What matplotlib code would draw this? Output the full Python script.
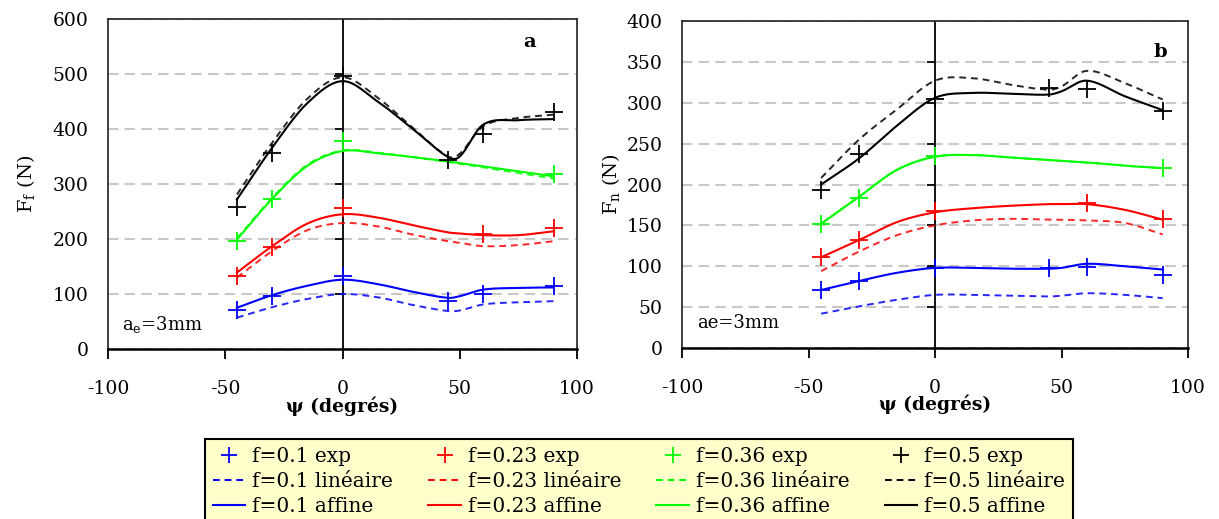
import numpy as np
import matplotlib
matplotlib.use("Agg")
import matplotlib.pyplot as plt
from matplotlib.lines import Line2D

plt.rcParams['font.family'] = ['DejaVu Serif']
plt.rcParams['mathtext.fontset'] = 'dejavuserif'

# ---- data ----
f_labels = ['0.1', '0.23', '0.36', '0.5']
colors = ['#0000ff', '#ff0000', '#00ff00', '#000000']

psi_exp = [-45, -30, 0, 45, 60, 90]
psi_mod = [-45, -30, -15, 0, 15, 30, 45, 50, 60, 75, 90]

xticks = [-100, -50, 0, 50, 100]
xtick_labels = ['-100', '-50', '0', '50', '100']
ff_yticks = [0, 100, 200, 300, 400, 500, 600]
fn_yticks = [0, 50, 100, 150, 200, 250, 300, 350, 400]

nan = float('nan')

# panel a : Ff (N)
ff_exp_01 = [71, 97, 133, 88, 100, 114]
ff_exp_023 = [132, 185, 256, nan, 210, 220]
ff_exp_036 = [196, 272, 378, nan, nan, 319]
ff_exp_05 = [259, 357, 497, 343, 391, 430]

ff_lin_01 = [57, 76, 91, 100, 94, 80, 69, 70, 81, 85, 87]
ff_lin_023 = [130, 178, 216, 229, 223, 208, 196, 193, 187, 189, 196]
ff_lin_036 = [201, 275, 335, 361, 357, 349, 340, 337, 330, 320, 310]
ff_lin_05 = [281, 375, 455, 494, 457, 402, 350, 355, 405, 420, 426]

ff_aff_01 = [75, 98, 115, 126, 118, 104, 93, 96, 108, 111, 112]
ff_aff_023 = [139, 187, 228, 245, 239, 225, 212, 210, 207, 207, 214]
ff_aff_036 = [199, 273, 333, 360, 356, 349, 341, 338, 332, 323, 314]
ff_aff_05 = [272, 366, 447, 487, 450, 400, 349, 350, 408, 416, 418]

# panel b : Fn (N)
fn_exp_01 = [71, 82, 98, 98, 99, 89]
fn_exp_023 = [111, 132, 167, nan, 177, 158]
fn_exp_036 = [152, 184, 235, nan, nan, 220]
fn_exp_05 = [193, 237, 304, 318, 317, 290]

fn_lin_01 = [42, 51, 59, 65, 65, 64, 63, 64, 67, 65, 61]
fn_lin_023 = [94, 118, 138, 150, 156, 158, 157, 157, 156, 153, 139]
fn_lin_036 = [152, 185, 218, 234, 236, 233, 230, 229, 227, 223, 220]
fn_lin_05 = [208, 255, 292, 327, 330, 322, 316, 320, 339, 324, 304]

fn_aff_01 = [71, 82, 92, 98, 98, 97, 97, 98, 103, 100, 96]
fn_aff_023 = [111, 132, 154, 166, 171, 174, 176, 176, 176, 169, 157]
fn_aff_036 = [152, 185, 218, 234, 236, 233, 230, 229, 227, 223, 220]
fn_aff_05 = [200, 232, 272, 306, 312, 311, 310, 314, 327, 308, 291]


def smooth(x, y, n=30):
    # cubic hermite through the read points (like a spreadsheet smoothed line)
    x = np.asarray(x, float)
    y = np.asarray(y, float)
    m = np.empty_like(y)
    m[1:-1] = (y[2:] - y[:-2]) / (x[2:] - x[:-2])
    m[0] = (y[1] - y[0]) / (x[1] - x[0])
    m[-1] = (y[-1] - y[-2]) / (x[-1] - x[-2])
    xs, ys = [], []
    for i in range(len(x) - 1):
        h = x[i + 1] - x[i]
        t = np.linspace(0, 1, n, endpoint=(i == len(x) - 2))
        h00 = 2 * t**3 - 3 * t**2 + 1
        h10 = t**3 - 2 * t**2 + t
        h01 = -2 * t**3 + 3 * t**2
        h11 = t**3 - t**2
        ys.append(h00 * y[i] + h10 * h * m[i] + h01 * y[i + 1] + h11 * h * m[i + 1])
        xs.append(x[i] + t * h)
    return np.concatenate(xs), np.concatenate(ys)


def draw_panel(ax, exp, lin, aff, yticks, ylabel, tag, tag_xy, ae_text, ae_xy, ylab_x):
    for k in range(4):
        xs, ys = smooth(psi_mod, lin[k])
        ax.plot(xs, ys, color=colors[k], lw=1.4, dashes=(3.5, 2.5), alpha=0.85, zorder=3)
    for k in range(4):
        xs, ys = smooth(psi_mod, aff[k])
        ax.plot(xs, ys, color=colors[k], lw=1.5, zorder=4)
    for k in range(4):
        ax.plot(psi_exp, exp[k], ls='none', marker='+', ms=12.5, mew=1.3,
                color=colors[k], zorder=5)

    ax.set_xlim(-100, 100)
    ax.set_ylim(yticks[0], yticks[-1])
    ax.set_xticks(xticks)
    ax.set_xticklabels(xtick_labels)
    ax.set_yticks(yticks)
    ax.set_yticklabels([str(v) for v in yticks])
    ax.tick_params(axis='x', direction='out', length=7, width=1.3, pad=15, labelsize=13.5)
    ax.tick_params(axis='y', length=0, pad=14, labelsize=13.5)
    ax.grid(axis='y', color='#c8c8c8', linestyle=(0, (5, 3)), linewidth=1.5)
    ax.set_axisbelow(True)

    # y axis crossing at psi = 0 with its own ticks
    ax.axvline(0, color='black', lw=1.3, zorder=2)
    ax.plot(np.zeros(len(yticks) - 2), yticks[1:-1], ls='none', marker=0,
            ms=6, mew=1.3, color='black', zorder=2)

    for s in ax.spines.values():
        s.set_color('#202020')
        s.set_linewidth(1.2)
    ax.spines['bottom'].set_color('black')
    ax.spines['bottom'].set_linewidth(1.8)

    ax.set_xlabel('ψ (degrés)', fontsize=13.5, fontweight='bold', va='center')
    ax.xaxis.set_label_coords(0.5, -0.172)
    ax.set_ylabel(ylabel, fontsize=14, va='center')
    ax.yaxis.set_label_coords(ylab_x, 0.5)

    ax.text(tag_xy[0], tag_xy[1], tag, fontsize=14, fontweight='bold',
            ha='center', va='center')
    ax.text(ae_xy[0], ae_xy[1], ae_text, fontsize=13, ha='left', va='center')


fig = plt.figure(figsize=(12.19, 5.19), dpi=100)
W, H = 1219.0, 519.0
ax1 = fig.add_axes([108 / W, 1 - 349 / H, (577 - 108) / W, (349 - 19) / H])
ax2 = fig.add_axes([682 / W, 1 - 348 / H, (1188 - 682) / W, (348 - 21) / H])

draw_panel(ax1,
           [ff_exp_01, ff_exp_023, ff_exp_036, ff_exp_05],
           [ff_lin_01, ff_lin_023, ff_lin_036, ff_lin_05],
           [ff_aff_01, ff_aff_023, ff_aff_036, ff_aff_05],
           ff_yticks, r'F$_\mathrm{f}$ (N)', 'a', (80, 558),
           r'a$_\mathrm{e}$=3mm', (-94, 45), -0.175)
draw_panel(ax2,
           [fn_exp_01, fn_exp_023, fn_exp_036, fn_exp_05],
           [fn_lin_01, fn_lin_023, fn_lin_036, fn_lin_05],
           [fn_aff_01, fn_aff_023, fn_aff_036, fn_aff_05],
           fn_yticks, r'F$_\mathrm{n}$ (N)', 'b', (89, 362),
           'ae=3mm', (-94, 31), -0.14)

handles, labels = [], []
for k in range(4):
    handles.append(Line2D([], [], color=colors[k], marker='+', ls='none', ms=12, mew=1.3))
    labels.append('f=%s exp' % f_labels[k])
    handles.append(Line2D([], [], color=colors[k], lw=1.4, dashes=(3.5, 2.5)))
    labels.append('f=%s linéaire' % f_labels[k])
    handles.append(Line2D([], [], color=colors[k], lw=1.5))
    labels.append('f=%s affine' % f_labels[k])

leg = fig.legend(handles, labels, ncol=4, loc='upper left',
                 bbox_to_anchor=(205 / W, 1 - 439 / H), borderaxespad=0,
                 fontsize=14.5, handlelength=1.6, handletextpad=0.35,
                 columnspacing=1.75, labelspacing=0.3, borderpad=0.4,
                 fancybox=False, edgecolor='black', facecolor='#ffffcc',
                 framealpha=1)
leg.get_frame().set_linewidth(1.5)

fig.savefig('out.png', dpi=100)
